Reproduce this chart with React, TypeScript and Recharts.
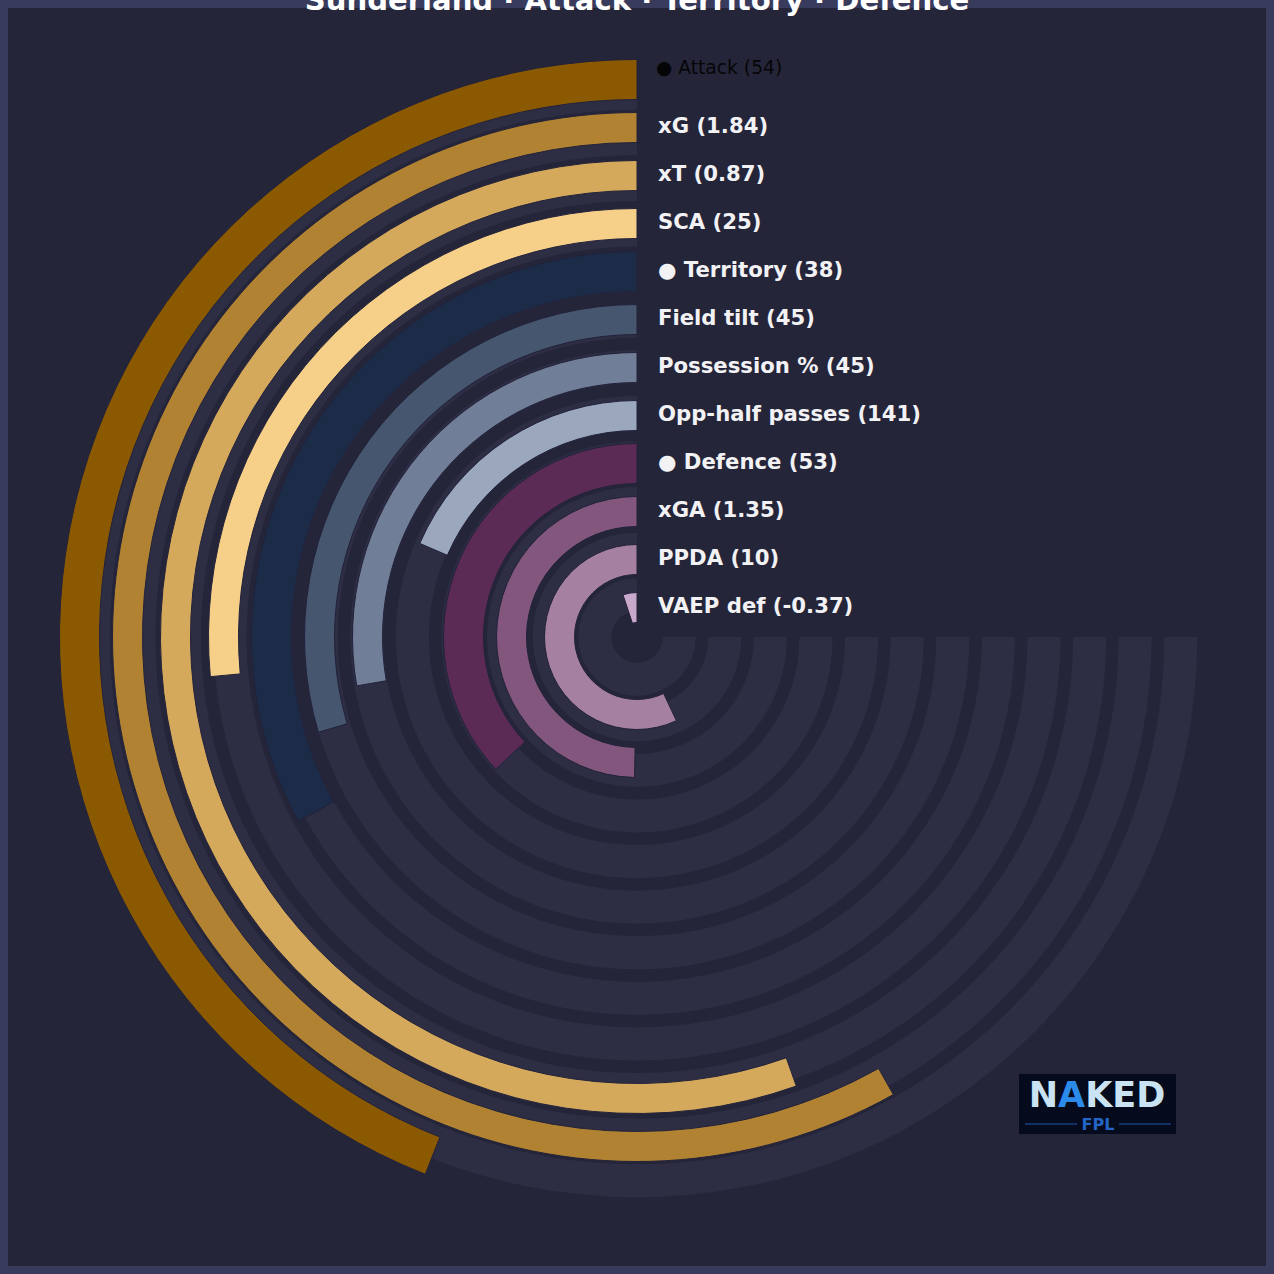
import React from 'react';
import { RadialBarChart, RadialBar, PolarAngleAxis, PolarRadiusAxis, Cell } from 'recharts';

// ---- data (top of legend = outermost ring) ----
const categories = ['Attack', 'xG', 'xT', 'SCA', 'Territory', 'Field tilt', 'Possession %', 'Opp-half passes', 'Defence', 'xGA', 'PPDA', 'VAEP def'];
const rawValues = ['54', '1.84', '0.87', '25', '38', '45', '45', '141', '53', '1.35', '10', '-0.37'];
const percentiles = [58.7, 77.5, 73.9, 35.3, 43.9, 39.5, 37.0, 24.7, 49.3, 66.3, 76.0, 6.8];
const composites = ['Attack', 'Territory', 'Defence'];
const colors = ['#8B5A00', '#B08232', '#D4A95B', '#F6D089', '#1C2B47', '#46566F', '#717E97', '#9AA7BD', '#5C2B55', '#83577D', '#A680A1', '#C9A9CB'];
const headerCategory = 'Attack';
const TITLE = 'Sunderland · Attack · Territory · Defence';
const TRACK_MAX = 100;
const ANGLE_DOMAIN = [0, 100];

// recharts puts the first row on the innermost ring
const rows = categories
  .map((name, i) => ({
    name,
    label: `${composites.includes(name) ? '● ' : ''}${name} (${rawValues[i]})`,
    composite: composites.includes(name) ? percentiles[i] : 0,
    metric: composites.includes(name) ? 0 : percentiles[i],
    track: TRACK_MAX,
    color: colors[i],
  }))
  .reverse();

const W = 1274;
const CX = 637;
const CY = 637;
const FONT = '"DejaVu Sans", sans-serif';

const LabelTick = (props: any) => {
  const { x, y, payload } = props;
  const row = rows.find((r) => r.name === payload.value);
  if (!row) return null;
  if (row.name === headerCategory) {
    return (
      <text x={x + 19} y={y - 12} dy="0.35em" fill="#050507" fontSize={18.7} fontFamily={FONT}>
        {row.label}
      </text>
    );
  }
  return (
    <text x={x + 21} y={y - 2} dy="0.36em" fill="#F2F2F5" fontSize={21.2} fontWeight="bold" fontFamily={FONT}>
      {row.label}
    </text>
  );
};

const layer: React.CSSProperties = { position: 'absolute', left: 0, top: 0 };

export default function App() {
  return (
    <div style={{ position: 'fixed', left: 0, top: 0, width: W, height: W, background: '#383B5B', overflow: 'hidden' }}>
      <div style={{ position: 'absolute', left: 8, top: 8, width: W - 16, height: W - 16, background: '#25253A' }} />

      {/* background tracks */}
      <div style={layer}>
        <RadialBarChart width={W} height={W} cx={CX} cy={CY} data={rows} startAngle={90} endAngle={360}
          innerRadius={19.7} outerRadius={566.9} barSize={33} margin={{ top: 0, right: 0, bottom: 0, left: 0 }}>
          <PolarAngleAxis type="number" domain={ANGLE_DOMAIN} tick={false} axisLine={false} />
          <PolarRadiusAxis type="category" dataKey="name" tick={false} axisLine={false} tickLine={false} />
          <RadialBar dataKey="track" fill="#2D2D44" isAnimationActive={false} />
        </RadialBarChart>
      </div>

      {/* composite bars (wider) */}
      <div style={layer}>
        <RadialBarChart width={W} height={W} cx={CX} cy={CY} data={rows} startAngle={90} endAngle={360}
          innerRadius={5.5} outerRadius={581.5} barSize={40} margin={{ top: 0, right: 0, bottom: 0, left: 0 }}>
          <PolarAngleAxis type="number" domain={ANGLE_DOMAIN} tick={false} axisLine={false} />
          <PolarRadiusAxis type="category" dataKey="name" tick={false} axisLine={false} tickLine={false} />
          <RadialBar dataKey="composite" isAnimationActive={false} stroke="#22223A" strokeWidth={1}>
            {rows.map((r) => (
              <Cell key={r.name} fill={r.color} />
            ))}
          </RadialBar>
        </RadialBarChart>
      </div>

      {/* metric bars + labels */}
      <div style={layer}>
        <RadialBarChart width={W} height={W} cx={CX} cy={CY} data={rows} startAngle={90} endAngle={360}
          innerRadius={5.5} outerRadius={581.5} barSize={30} margin={{ top: 0, right: 0, bottom: 0, left: 0 }}>
          <PolarAngleAxis type="number" domain={ANGLE_DOMAIN} tick={false} axisLine={false} />
          <RadialBar dataKey="metric" isAnimationActive={false} stroke="#22223A" strokeWidth={1}>
            {rows.map((r) => (
              <Cell key={r.name} fill={r.color} />
            ))}
          </RadialBar>
          <PolarRadiusAxis type="category" dataKey="name" angle={90} axisLine={false} tickLine={false} tick={<LabelTick />} />
        </RadialBarChart>
      </div>

      {/* title */}
      <svg width={W} height={40} style={layer}>
        <text x={CX} y={10} textAnchor="middle" fill="#FFFFFF" fontSize={29.1} fontWeight="bold" fontFamily={FONT}>
          {TITLE}
        </text>
      </svg>

      {/* logo */}
      <div style={{ position: 'absolute', left: 1019, top: 1074, width: 157, height: 60, background: '#050B1C' }}>
        <svg width={157} height={60}>
          <text x={78} y={33} textAnchor="middle" fill="#C9E3F3" fontSize={35} fontWeight="bold" fontFamily={FONT}>
            N<tspan fill="#2C8BEA">A</tspan>KED
          </text>
          <line x1={6} y1={50} x2={58} y2={50} stroke="#1D5AA8" strokeWidth={1.2} />
          <line x1={100} y1={50} x2={152} y2={50} stroke="#1D5AA8" strokeWidth={1.2} />
          <text x={79} y={56} textAnchor="middle" fill="#2365C6" fontSize={16} fontWeight="bold" fontFamily={FONT}>
            FPL
          </text>
        </svg>
      </div>
    </div>
  );
}
